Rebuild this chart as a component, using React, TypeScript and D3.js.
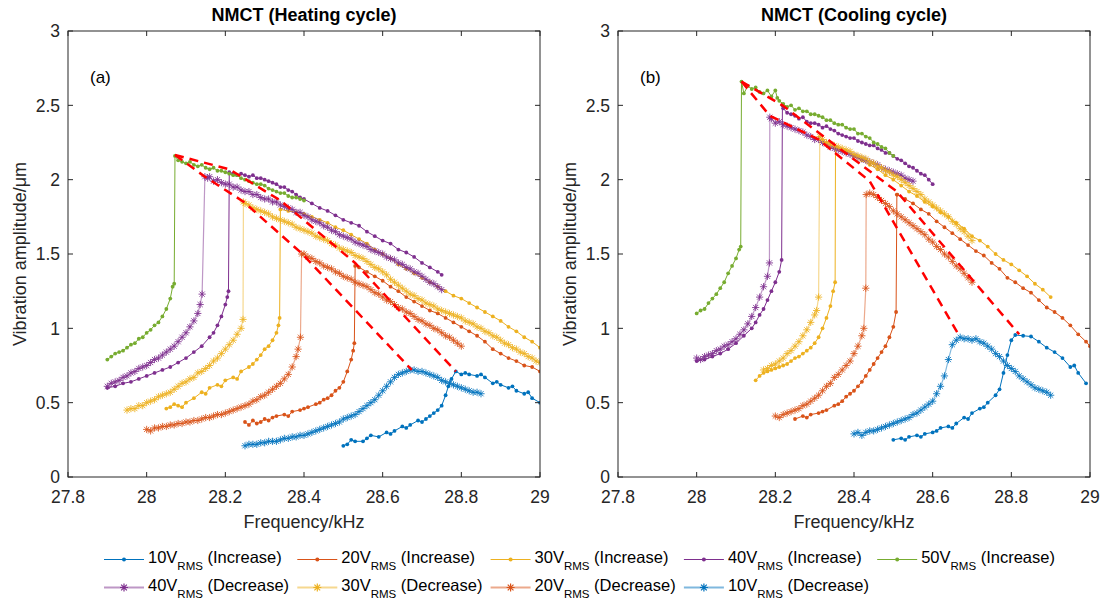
import React, { useEffect, useRef } from "react";
import * as d3 from "d3";

type P = [number, number];

const xTicks = [27.8, 28, 28.2, 28.4, 28.6, 28.8, 29];
const yTicks = [0, 0.5, 1, 1.5, 2, 2.5, 3];
const voltColors: Record<string, string> = {
  "10": "#0072BD",
  "20": "#D95319",
  "30": "#EDB120",
  "40": "#7E2F8E",
  "50": "#77AC30",
};

// ---------------- Panel (a): heating cycle ----------------
const a10inc: P[] = [[28.50,0.21],[28.51,0.22],[28.52,0.25],[28.53,0.24],[28.55,0.24],[28.56,0.26],[28.57,0.28],[28.59,0.27],[28.61,0.30],[28.62,0.29],[28.63,0.31],[28.65,0.34],[28.66,0.33],[28.67,0.35],[28.69,0.38],[28.70,0.37],[28.71,0.39],[28.72,0.41],[28.73,0.43],[28.74,0.45],[28.75,0.48],[28.76,0.55],[28.767,0.61],[28.775,0.66],[28.786,0.71],[28.80,0.69],[28.81,0.70],[28.82,0.69],[28.84,0.68],[28.85,0.69],[28.86,0.67],[28.88,0.63],[28.89,0.64],[28.90,0.62],[28.92,0.60],[28.93,0.61],[28.94,0.58],[28.96,0.56],[28.97,0.57],[28.98,0.53],[29.00,0.50]];
const a20inc: P[] = [[28.25,0.37],[28.26,0.35],[28.27,0.38],[28.28,0.36],[28.29,0.37],[28.30,0.39],[28.31,0.38],[28.32,0.40],[28.33,0.41],[28.35,0.42],[28.36,0.41],[28.37,0.44],[28.39,0.45],[28.40,0.46],[28.41,0.47],[28.43,0.49],[28.44,0.50],[28.45,0.52],[28.46,0.53],[28.47,0.55],[28.48,0.58],[28.49,0.60],[28.50,0.64],[28.51,0.71],[28.52,0.79],[28.525,0.85],[28.528,0.90],[28.53,1.42],[28.54,1.41],[28.56,1.38],[28.58,1.35],[28.60,1.32],[28.62,1.28],[28.64,1.25],[28.66,1.21],[28.68,1.18],[28.70,1.15],[28.72,1.12],[28.74,1.10],[28.76,1.07],[28.78,1.04],[28.80,1.01],[28.82,0.98],[28.84,0.95],[28.86,0.91],[28.88,0.86],[28.90,0.83],[28.92,0.80],[28.94,0.78],[28.96,0.75],[28.98,0.74],[29.00,0.71]];
const a30inc: P[] = [[28.05,0.46],[28.06,0.47],[28.07,0.49],[28.08,0.48],[28.09,0.47],[28.10,0.50],[28.12,0.53],[28.14,0.57],[28.15,0.56],[28.16,0.60],[28.18,0.62],[28.19,0.61],[28.20,0.65],[28.22,0.67],[28.23,0.66],[28.24,0.71],[28.26,0.74],[28.27,0.76],[28.28,0.79],[28.29,0.82],[28.30,0.86],[28.31,0.88],[28.32,0.92],[28.33,0.97],[28.335,1.02],[28.338,1.07],[28.34,1.80],[28.36,1.79],[28.38,1.78],[28.40,1.77],[28.42,1.75],[28.44,1.73],[28.46,1.71],[28.48,1.68],[28.50,1.66],[28.52,1.63],[28.54,1.60],[28.56,1.57],[28.58,1.53],[28.60,1.50],[28.62,1.47],[28.64,1.43],[28.66,1.40],[28.68,1.37],[28.70,1.34],[28.72,1.31],[28.74,1.28],[28.76,1.25],[28.78,1.22],[28.80,1.20],[28.82,1.17],[28.84,1.14],[28.86,1.11],[28.88,1.08],[28.90,1.05],[28.92,1.01],[28.94,0.98],[28.96,0.94],[28.98,0.91],[29.00,0.87]];
const a40inc: P[] = [[27.90,0.60],[27.92,0.61],[27.94,0.63],[27.96,0.64],[27.98,0.66],[28.00,0.68],[28.02,0.70],[28.04,0.72],[28.06,0.74],[28.08,0.77],[28.10,0.80],[28.12,0.84],[28.14,0.88],[28.16,0.94],[28.17,0.97],[28.18,1.02],[28.19,1.08],[28.20,1.16],[28.205,1.21],[28.208,1.25],[28.21,2.05],[28.22,2.04],[28.23,2.03],[28.24,2.04],[28.25,2.03],[28.26,2.02],[28.27,2.03],[28.28,2.01],[28.29,2.01],[28.30,2.00],[28.31,1.99],[28.32,1.98],[28.33,1.97],[28.34,1.95],[28.35,1.95],[28.36,1.93],[28.37,1.92],[28.38,1.90],[28.39,1.88],[28.40,1.87],[28.42,1.84],[28.44,1.81],[28.46,1.79],[28.48,1.76],[28.50,1.73],[28.52,1.71],[28.54,1.69],[28.56,1.65],[28.58,1.62],[28.60,1.59],[28.62,1.57],[28.64,1.53],[28.66,1.51],[28.68,1.48],[28.70,1.44],[28.72,1.41],[28.74,1.38],[28.75,1.36]];
const a50inc: P[] = [[27.90,0.79],[27.91,0.81],[27.92,0.83],[27.93,0.84],[27.94,0.85],[27.95,0.87],[27.96,0.89],[27.97,0.90],[27.98,0.93],[27.99,0.94],[28.00,0.97],[28.01,0.99],[28.02,1.02],[28.03,1.04],[28.04,1.08],[28.05,1.13],[28.06,1.20],[28.066,1.28],[28.07,1.30],[28.072,2.16],[28.08,2.13],[28.09,2.12],[28.10,2.11],[28.11,2.12],[28.12,2.10],[28.13,2.09],[28.14,2.10],[28.15,2.08],[28.16,2.07],[28.17,2.08],[28.18,2.06],[28.19,2.06],[28.20,2.05],[28.21,2.04],[28.22,2.03],[28.23,2.03],[28.24,2.01],[28.25,2.00],[28.26,1.99],[28.27,1.98],[28.28,1.97],[28.29,1.97],[28.30,1.96],[28.31,1.94],[28.32,1.93],[28.33,1.92],[28.34,1.91],[28.35,1.91],[28.36,1.89],[28.37,1.88],[28.38,1.88],[28.39,1.87],[28.40,1.86]];
const a40dec: P[] = [[27.90,0.61],[27.91,0.63],[27.92,0.64],[27.93,0.65],[27.94,0.67],[27.95,0.68],[27.96,0.70],[27.97,0.71],[27.98,0.73],[27.99,0.74],[28.00,0.75],[28.01,0.77],[28.02,0.79],[28.03,0.80],[28.04,0.82],[28.05,0.84],[28.06,0.86],[28.07,0.88],[28.08,0.91],[28.09,0.94],[28.10,0.97],[28.11,1.01],[28.12,1.05],[28.13,1.10],[28.136,1.16],[28.141,1.23],[28.148,2.02],[28.155,2.01],[28.16,2.02],[28.17,1.99],[28.18,2.00],[28.19,1.98],[28.20,1.97],[28.21,1.97],[28.22,1.95],[28.23,1.95],[28.24,1.93],[28.25,1.92],[28.26,1.92],[28.27,1.90],[28.28,1.90],[28.29,1.88],[28.30,1.87],[28.31,1.87],[28.32,1.85],[28.33,1.85],[28.34,1.83],[28.35,1.82],[28.36,1.81],[28.37,1.80],[28.38,1.78],[28.39,1.78],[28.40,1.76],[28.41,1.75],[28.42,1.73],[28.43,1.72],[28.44,1.71],[28.45,1.69],[28.46,1.68],[28.47,1.66],[28.48,1.65],[28.49,1.63],[28.50,1.62],[28.51,1.61],[28.52,1.60],[28.53,1.58],[28.54,1.57],[28.55,1.56],[28.56,1.55],[28.57,1.53],[28.58,1.52],[28.59,1.51],[28.60,1.50],[28.61,1.48],[28.62,1.47],[28.63,1.46],[28.64,1.44],[28.65,1.43],[28.66,1.41],[28.67,1.40],[28.68,1.38],[28.69,1.37],[28.70,1.35],[28.71,1.33],[28.72,1.31],[28.73,1.30],[28.74,1.28],[28.75,1.26]];
const a30dec: P[] = [[27.95,0.45],[27.96,0.46],[27.97,0.46],[27.98,0.48],[27.99,0.48],[28.00,0.50],[28.01,0.51],[28.02,0.52],[28.03,0.54],[28.04,0.55],[28.05,0.56],[28.06,0.57],[28.07,0.59],[28.08,0.61],[28.09,0.63],[28.10,0.64],[28.11,0.66],[28.12,0.67],[28.13,0.70],[28.14,0.71],[28.15,0.73],[28.16,0.75],[28.17,0.78],[28.18,0.80],[28.19,0.83],[28.20,0.86],[28.21,0.89],[28.22,0.92],[28.23,0.96],[28.24,1.00],[28.245,1.06],[28.246,1.85],[28.25,1.84],[28.26,1.83],[28.27,1.81],[28.28,1.80],[28.29,1.79],[28.30,1.78],[28.31,1.77],[28.32,1.75],[28.33,1.74],[28.34,1.73],[28.35,1.72],[28.36,1.71],[28.37,1.70],[28.38,1.68],[28.39,1.67],[28.40,1.66],[28.41,1.65],[28.42,1.64],[28.43,1.62],[28.44,1.61],[28.45,1.60],[28.46,1.59],[28.47,1.57],[28.48,1.56],[28.49,1.54],[28.50,1.53],[28.51,1.52],[28.52,1.51],[28.53,1.49],[28.54,1.48],[28.55,1.47],[28.56,1.45],[28.57,1.43],[28.58,1.41],[28.59,1.40],[28.60,1.38],[28.61,1.36],[28.62,1.33],[28.63,1.31],[28.64,1.29],[28.65,1.27],[28.66,1.25],[28.67,1.23],[28.68,1.22],[28.69,1.20],[28.70,1.19],[28.71,1.17],[28.72,1.16],[28.73,1.15],[28.74,1.13],[28.75,1.12],[28.76,1.11],[28.77,1.10],[28.78,1.09],[28.79,1.08],[28.80,1.07],[28.81,1.05],[28.82,1.04],[28.83,1.03],[28.84,1.01],[28.85,1.00],[28.86,0.98],[28.87,0.97],[28.88,0.95],[28.89,0.94],[28.90,0.92],[28.91,0.90],[28.92,0.89],[28.93,0.87],[28.94,0.86],[28.95,0.84],[28.96,0.83],[28.97,0.81],[28.98,0.80],[28.99,0.78],[29.00,0.77]];
const a20dec: P[] = [[28.00,0.32],[28.01,0.31],[28.02,0.33],[28.03,0.33],[28.04,0.34],[28.05,0.34],[28.06,0.35],[28.07,0.35],[28.08,0.36],[28.09,0.36],[28.10,0.37],[28.11,0.37],[28.12,0.38],[28.13,0.38],[28.14,0.39],[28.15,0.40],[28.16,0.40],[28.17,0.41],[28.18,0.42],[28.19,0.42],[28.20,0.43],[28.21,0.44],[28.22,0.45],[28.23,0.46],[28.24,0.47],[28.25,0.48],[28.26,0.49],[28.27,0.51],[28.28,0.52],[28.29,0.54],[28.30,0.55],[28.31,0.57],[28.32,0.59],[28.33,0.61],[28.34,0.63],[28.35,0.66],[28.36,0.69],[28.37,0.74],[28.38,0.81],[28.385,0.86],[28.391,0.94],[28.394,1.50],[28.40,1.50],[28.41,1.48],[28.42,1.47],[28.43,1.45],[28.44,1.44],[28.45,1.42],[28.46,1.41],[28.47,1.40],[28.48,1.38],[28.49,1.37],[28.50,1.35],[28.51,1.34],[28.52,1.33],[28.53,1.31],[28.54,1.30],[28.55,1.29],[28.56,1.28],[28.57,1.26],[28.58,1.24],[28.59,1.23],[28.60,1.21],[28.61,1.19],[28.62,1.18],[28.63,1.16],[28.64,1.14],[28.65,1.13],[28.66,1.11],[28.67,1.10],[28.68,1.08],[28.69,1.06],[28.70,1.05],[28.71,1.03],[28.72,1.02],[28.73,1.00],[28.74,0.99],[28.75,0.97],[28.76,0.95],[28.77,0.94],[28.78,0.92],[28.79,0.90],[28.80,0.88]];
const a10dec: P[] = [[28.25,0.21],[28.26,0.22],[28.27,0.22],[28.28,0.22],[28.29,0.23],[28.30,0.23],[28.31,0.24],[28.32,0.24],[28.33,0.24],[28.34,0.25],[28.35,0.26],[28.36,0.26],[28.37,0.27],[28.38,0.27],[28.39,0.28],[28.40,0.28],[28.41,0.29],[28.42,0.30],[28.43,0.31],[28.44,0.32],[28.45,0.33],[28.46,0.34],[28.47,0.35],[28.48,0.36],[28.49,0.37],[28.50,0.39],[28.51,0.40],[28.52,0.41],[28.53,0.42],[28.54,0.44],[28.55,0.46],[28.56,0.48],[28.57,0.50],[28.58,0.52],[28.59,0.55],[28.60,0.58],[28.61,0.61],[28.62,0.64],[28.63,0.67],[28.64,0.69],[28.65,0.70],[28.66,0.71],[28.67,0.72],[28.68,0.72],[28.69,0.71],[28.70,0.71],[28.71,0.70],[28.72,0.69],[28.73,0.68],[28.74,0.67],[28.75,0.65],[28.76,0.64],[28.77,0.63],[28.78,0.62],[28.79,0.61],[28.80,0.60],[28.81,0.59],[28.82,0.58],[28.83,0.57],[28.84,0.57],[28.85,0.56]];
const aBackboneDec: P[] = [[28.072,2.166],[28.148,2.02],[28.246,1.852],[28.394,1.505],[28.674,0.72]];
const aBackboneInc: P[] = [[28.072,2.166],[28.21,2.07],[28.34,1.86],[28.53,1.44],[28.786,0.71]];

// ---------------- Panel (b): cooling cycle ----------------
const b10inc: P[] = [[28.50,0.25],[28.52,0.26],[28.53,0.25],[28.54,0.27],[28.56,0.28],[28.57,0.27],[28.58,0.29],[28.60,0.30],[28.61,0.31],[28.62,0.33],[28.64,0.34],[28.65,0.33],[28.66,0.36],[28.68,0.40],[28.69,0.39],[28.70,0.43],[28.72,0.46],[28.73,0.47],[28.74,0.50],[28.76,0.55],[28.77,0.59],[28.78,0.70],[28.79,0.82],[28.80,0.92],[28.81,0.955],[28.83,0.95],[28.85,0.945],[28.87,0.91],[28.89,0.87],[28.91,0.84],[28.93,0.80],[28.95,0.74],[28.96,0.75],[28.97,0.70],[28.99,0.63]];
const b20inc: P[] = [[28.25,0.39],[28.27,0.41],[28.28,0.40],[28.29,0.42],[28.31,0.43],[28.32,0.44],[28.33,0.45],[28.35,0.48],[28.36,0.49],[28.37,0.51],[28.38,0.54],[28.39,0.56],[28.40,0.58],[28.41,0.61],[28.42,0.64],[28.43,0.68],[28.44,0.72],[28.45,0.76],[28.46,0.80],[28.47,0.84],[28.48,0.88],[28.49,0.94],[28.50,1.01],[28.507,1.11],[28.509,1.90],[28.51,1.90],[28.53,1.87],[28.55,1.84],[28.57,1.80],[28.59,1.77],[28.61,1.72],[28.63,1.68],[28.65,1.64],[28.67,1.60],[28.69,1.56],[28.71,1.52],[28.73,1.49],[28.75,1.44],[28.77,1.40],[28.79,1.34],[28.81,1.31],[28.83,1.27],[28.85,1.24],[28.87,1.19],[28.89,1.14],[28.91,1.11],[28.93,1.07],[28.95,1.02],[28.97,0.96],[28.99,0.91],[29.00,0.88]];
const b30inc: P[] = [[28.15,0.65],[28.16,0.68],[28.17,0.70],[28.18,0.71],[28.19,0.72],[28.20,0.73],[28.21,0.74],[28.22,0.75],[28.23,0.76],[28.24,0.78],[28.25,0.80],[28.26,0.81],[28.27,0.83],[28.28,0.85],[28.29,0.87],[28.30,0.90],[28.31,0.94],[28.32,1.00],[28.33,1.07],[28.34,1.15],[28.347,1.25],[28.352,1.31],[28.353,2.22],[28.36,2.21],[28.38,2.19],[28.40,2.16],[28.42,2.13],[28.44,2.10],[28.46,2.07],[28.48,2.03],[28.50,2.00],[28.52,1.96],[28.54,1.92],[28.56,1.89],[28.58,1.85],[28.60,1.82],[28.62,1.78],[28.64,1.75],[28.66,1.71],[28.68,1.67],[28.70,1.62],[28.72,1.59],[28.74,1.55],[28.76,1.50],[28.78,1.46],[28.80,1.43],[28.82,1.39],[28.84,1.35],[28.86,1.30],[28.88,1.26],[28.90,1.21]];
const b40inc: P[] = [[28.00,0.78],[28.02,0.79],[28.04,0.81],[28.06,0.83],[28.08,0.86],[28.10,0.90],[28.12,0.95],[28.14,1.00],[28.15,1.04],[28.16,1.09],[28.17,1.13],[28.18,1.19],[28.19,1.25],[28.20,1.31],[28.21,1.38],[28.216,1.46],[28.218,2.50],[28.22,2.48],[28.23,2.45],[28.24,2.44],[28.25,2.43],[28.26,2.41],[28.27,2.42],[28.28,2.39],[28.29,2.38],[28.30,2.38],[28.31,2.37],[28.32,2.35],[28.33,2.36],[28.34,2.34],[28.35,2.33],[28.36,2.31],[28.37,2.30],[28.38,2.29],[28.39,2.28],[28.40,2.28],[28.41,2.26],[28.42,2.25],[28.43,2.24],[28.44,2.23],[28.45,2.23],[28.46,2.21],[28.47,2.20],[28.48,2.18],[28.49,2.18],[28.50,2.16],[28.51,2.14],[28.52,2.13],[28.53,2.11],[28.54,2.09],[28.55,2.08],[28.56,2.06],[28.57,2.04],[28.58,2.03],[28.59,2.00],[28.60,1.97]];
const b50inc: P[] = [[28.00,1.10],[28.01,1.12],[28.02,1.13],[28.03,1.17],[28.04,1.20],[28.05,1.23],[28.06,1.27],[28.07,1.31],[28.08,1.37],[28.09,1.42],[28.10,1.47],[28.108,1.53],[28.112,1.55],[28.114,2.66],[28.12,2.58],[28.13,2.63],[28.14,2.61],[28.15,2.62],[28.16,2.59],[28.17,2.58],[28.18,2.60],[28.19,2.56],[28.20,2.60],[28.205,2.55],[28.21,2.53],[28.22,2.51],[28.23,2.49],[28.24,2.50],[28.25,2.47],[28.26,2.48],[28.27,2.46],[28.28,2.46],[28.29,2.44],[28.30,2.44],[28.31,2.43],[28.32,2.42],[28.33,2.40],[28.34,2.40],[28.35,2.38],[28.36,2.37],[28.37,2.37],[28.38,2.35],[28.39,2.34],[28.40,2.34],[28.41,2.31],[28.42,2.31],[28.43,2.29],[28.44,2.28],[28.45,2.25],[28.46,2.24],[28.47,2.22],[28.48,2.21],[28.49,2.18],[28.50,2.16]];
const b40dec: P[] = [[28.00,0.80],[28.01,0.79],[28.02,0.81],[28.03,0.82],[28.04,0.83],[28.05,0.85],[28.06,0.86],[28.07,0.88],[28.08,0.89],[28.09,0.91],[28.10,0.93],[28.11,0.96],[28.12,0.99],[28.13,1.03],[28.14,1.08],[28.15,1.14],[28.16,1.21],[28.17,1.28],[28.18,1.35],[28.185,1.44],[28.186,2.42],[28.19,2.41],[28.20,2.38],[28.21,2.39],[28.22,2.37],[28.23,2.36],[28.24,2.35],[28.25,2.34],[28.26,2.33],[28.27,2.32],[28.28,2.30],[28.29,2.29],[28.30,2.27],[28.31,2.27],[28.32,2.25],[28.33,2.24],[28.34,2.22],[28.35,2.21],[28.36,2.20],[28.37,2.19],[28.38,2.18],[28.39,2.17],[28.40,2.16],[28.41,2.15],[28.42,2.14],[28.43,2.13],[28.44,2.12],[28.45,2.11],[28.46,2.10],[28.47,2.08],[28.48,2.07],[28.49,2.06],[28.50,2.05],[28.51,2.04],[28.52,2.03],[28.53,2.01],[28.54,2.00],[28.55,1.99]];
const b30dec: P[] = [[28.17,0.72],[28.18,0.73],[28.19,0.75],[28.20,0.76],[28.21,0.78],[28.22,0.80],[28.23,0.83],[28.24,0.85],[28.25,0.88],[28.26,0.91],[28.27,0.95],[28.28,0.99],[28.29,1.04],[28.30,1.09],[28.305,1.12],[28.31,1.21],[28.313,2.29],[28.32,2.27],[28.33,2.25],[28.34,2.24],[28.35,2.23],[28.36,2.22],[28.37,2.21],[28.38,2.20],[28.39,2.19],[28.40,2.17],[28.41,2.16],[28.42,2.15],[28.43,2.14],[28.44,2.12],[28.45,2.11],[28.46,2.09],[28.47,2.08],[28.48,2.06],[28.49,2.05],[28.50,2.03],[28.51,2.02],[28.52,2.00],[28.53,1.98],[28.54,1.96],[28.55,1.94],[28.56,1.92],[28.57,1.90],[28.58,1.87],[28.59,1.85],[28.60,1.83],[28.61,1.81],[28.62,1.79],[28.63,1.77],[28.64,1.75],[28.65,1.72],[28.66,1.70],[28.67,1.67],[28.68,1.65],[28.69,1.62],[28.70,1.59]];
const b20dec: P[] = [[28.20,0.41],[28.21,0.40],[28.22,0.42],[28.23,0.43],[28.24,0.44],[28.25,0.45],[28.26,0.46],[28.27,0.48],[28.28,0.49],[28.29,0.51],[28.30,0.53],[28.31,0.55],[28.32,0.58],[28.33,0.61],[28.34,0.63],[28.35,0.67],[28.36,0.69],[28.37,0.72],[28.38,0.75],[28.39,0.78],[28.40,0.83],[28.41,0.88],[28.42,0.95],[28.425,1.00],[28.43,1.27],[28.431,1.90],[28.44,1.91],[28.45,1.90],[28.46,1.88],[28.47,1.86],[28.48,1.84],[28.49,1.82],[28.50,1.79],[28.51,1.77],[28.52,1.75],[28.53,1.73],[28.54,1.71],[28.55,1.69],[28.56,1.67],[28.57,1.65],[28.58,1.63],[28.59,1.60],[28.60,1.58],[28.61,1.55],[28.62,1.53],[28.63,1.50],[28.64,1.48],[28.65,1.45],[28.66,1.42],[28.67,1.40],[28.68,1.37],[28.69,1.34],[28.70,1.31]];
const b10dec: P[] = [[28.40,0.29],[28.41,0.30],[28.42,0.28],[28.43,0.30],[28.44,0.31],[28.45,0.31],[28.46,0.32],[28.47,0.33],[28.48,0.34],[28.49,0.35],[28.50,0.36],[28.51,0.37],[28.52,0.38],[28.53,0.39],[28.54,0.40],[28.55,0.42],[28.56,0.43],[28.57,0.45],[28.58,0.47],[28.59,0.49],[28.60,0.51],[28.61,0.56],[28.62,0.61],[28.63,0.68],[28.64,0.79],[28.65,0.89],[28.66,0.92],[28.67,0.94],[28.68,0.93],[28.69,0.93],[28.70,0.92],[28.71,0.93],[28.72,0.91],[28.73,0.90],[28.74,0.88],[28.75,0.86],[28.76,0.83],[28.77,0.81],[28.78,0.78],[28.79,0.75],[28.80,0.73],[28.81,0.71],[28.82,0.68],[28.83,0.66],[28.84,0.64],[28.85,0.62],[28.86,0.60],[28.87,0.59],[28.88,0.58],[28.89,0.57],[28.90,0.55]];
const bBackboneDec: P[] = [[28.114,2.66],[28.186,2.43],[28.31,2.27],[28.44,1.99],[28.669,0.944]];
const bBackboneInc: P[] = [[28.114,2.66],[28.218,2.50],[28.353,2.23],[28.509,1.92],[28.82,0.96]];

const legendVolts = ["10", "20", "30", "40", "50", "40", "30", "20", "10"];
const legendModes = ["Increase", "Increase", "Increase", "Increase", "Increase", "Decrease", "Decrease", "Decrease", "Decrease"];

const FONT = "'Liberation Sans', Arial, Helvetica, sans-serif";
const AX = "#262626";

type S = { data: P[]; color: string };

function starPath(cx: number, cy: number, r: number) {
  const d = r * 0.72;
  return `M${cx - r},${cy}H${cx + r}M${cx},${cy - r}V${cy + r}M${cx - d},${cy - d}L${cx + d},${cy + d}M${cx - d},${cy + d}L${cx + d},${cy - d}`;
}

function drawPanel(
  svg: d3.Selection<SVGSVGElement, unknown, null, undefined>,
  left: number,
  title: string,
  tag: string,
  inc: S[],
  dec: S[],
  bbDec: P[],
  bbInc: P[]
) {
  const W = 472, top = 31, bottom = 477;
  const x = d3.scaleLinear().domain([27.8, 29]).range([left, left + W]);
  const y = d3.scaleLinear().domain([0, 3]).range([bottom, top]);
  const clipId = "clip" + left;
  svg.append("defs").append("clipPath").attr("id", clipId)
    .append("rect").attr("x", left).attr("y", top).attr("width", W).attr("height", bottom - top);
  const plot = svg.append("g").attr("clip-path", `url(#${clipId})`);
  const line = d3.line<P>().x(d => x(d[0])).y(d => y(d[1]));

  inc.forEach(s => {
    plot.append("path").attr("d", line(s.data)).attr("fill", "none")
      .attr("stroke", s.color).attr("stroke-width", 1);
    plot.append("g").selectAll("circle").data(s.data).join("circle")
      .attr("cx", d => x(d[0])).attr("cy", d => y(d[1])).attr("r", 1.9).attr("fill", s.color);
  });
  dec.forEach(s => {
    plot.append("path").attr("d", line(s.data)).attr("fill", "none")
      .attr("stroke", s.color).attr("stroke-width", 1.2).attr("stroke-opacity", 0.5);
    plot.append("path")
      .attr("d", s.data.map(d => starPath(x(d[0]), y(d[1]), 3.6)).join(""))
      .attr("fill", "none").attr("stroke", s.color).attr("stroke-width", 1).attr("stroke-opacity", 0.85);
  });
  [bbDec, bbInc].forEach(b => {
    plot.append("path").attr("d", line(b)).attr("fill", "none")
      .attr("stroke", "#FF0000").attr("stroke-width", 2.5).attr("stroke-dasharray", "9,6");
  });

  const ax = svg.append("g");
  ax.append("rect").attr("x", left).attr("y", top).attr("width", W).attr("height", bottom - top)
    .attr("fill", "none").attr("stroke", AX).attr("stroke-width", 1);
  xTicks.forEach(t => {
    const px = x(t);
    ax.append("line").attr("x1", px).attr("x2", px).attr("y1", bottom).attr("y2", bottom - 5).attr("stroke", AX);
    ax.append("line").attr("x1", px).attr("x2", px).attr("y1", top).attr("y2", top + 5).attr("stroke", AX);
    ax.append("text").attr("x", px).attr("y", 503).attr("text-anchor", "middle")
      .attr("font-family", FONT).attr("font-size", 17.5).attr("fill", AX).text(String(t));
  });
  yTicks.forEach(t => {
    const py = y(t);
    ax.append("line").attr("x1", left).attr("x2", left + 5).attr("y1", py).attr("y2", py).attr("stroke", AX);
    ax.append("line").attr("x1", left + W).attr("x2", left + W - 5).attr("y1", py).attr("y2", py).attr("stroke", AX);
    ax.append("text").attr("x", left - 8).attr("y", py + 6.3).attr("text-anchor", "end")
      .attr("font-family", FONT).attr("font-size", 17.5).attr("fill", AX).text(String(t));
  });
  ax.append("text").attr("x", left + W / 2).attr("y", 21).attr("text-anchor", "middle")
    .attr("font-family", FONT).attr("font-size", 18).attr("font-weight", "bold").attr("fill", "#000").text(title);
  ax.append("text").attr("x", left + W / 2).attr("y", 528).attr("text-anchor", "middle")
    .attr("font-family", FONT).attr("font-size", 18).attr("fill", AX).text("Frequency/kHz");
  ax.append("text").attr("transform", `translate(${left - 42},254) rotate(-90)`).attr("text-anchor", "middle")
    .attr("font-family", FONT).attr("font-size", 18).attr("fill", AX).text("Vibration amplitude/\u03BCm");
  ax.append("text").attr("x", left + 22).attr("y", 83).attr("font-family", FONT)
    .attr("font-size", 17).attr("fill", "#000").text(tag);
}

export default function App() {
  const ref = useRef<SVGSVGElement>(null);
  useEffect(() => {
    const svg = d3.select(ref.current as SVGSVGElement);
    svg.selectAll("*").remove();
    const c = voltColors;
    drawPanel(svg, 68, "NMCT (Heating cycle)", "(a)",
      [{ data: a10inc, color: c["10"] }, { data: a20inc, color: c["20"] }, { data: a30inc, color: c["30"] }, { data: a40inc, color: c["40"] }, { data: a50inc, color: c["50"] }],
      [{ data: a40dec, color: c["40"] }, { data: a30dec, color: c["30"] }, { data: a20dec, color: c["20"] }, { data: a10dec, color: c["10"] }],
      aBackboneDec, aBackboneInc);
    drawPanel(svg, 618, "NMCT (Cooling cycle)", "(b)",
      [{ data: b10inc, color: c["10"] }, { data: b20inc, color: c["20"] }, { data: b30inc, color: c["30"] }, { data: b40inc, color: c["40"] }, { data: b50inc, color: c["50"] }],
      [{ data: b40dec, color: c["40"] }, { data: b30dec, color: c["30"] }, { data: b20dec, color: c["20"] }, { data: b10dec, color: c["10"] }],
      bBackboneDec, bBackboneInc);

    // legend
    const lg = svg.append("g");
    legendVolts.forEach((v, i) => {
      const row = i < 5 ? 0 : 1;
      const col = i < 5 ? i : i - 5;
      const x0 = 104 + col * 193.3;
      const ly = row === 0 ? 559.5 : 587.5;
      const color = voltColors[v];
      const isDec = legendModes[i] === "Decrease";
      lg.append("line").attr("x1", x0).attr("x2", x0 + 40).attr("y1", ly).attr("y2", ly)
        .attr("stroke", color).attr("stroke-width", isDec ? 2 : 1).attr("stroke-opacity", isDec ? 0.5 : 1);
      if (isDec) {
        lg.append("path").attr("d", starPath(x0 + 20, ly, 4)).attr("stroke", color).attr("stroke-width", 1.2).attr("fill", "none");
      } else {
        lg.append("circle").attr("cx", x0 + 20).attr("cy", ly).attr("r", 2).attr("fill", color);
      }
      const t = lg.append("text").attr("x", x0 + 44).attr("y", ly + 3.5)
        .attr("font-family", FONT).attr("font-size", 16.5).attr("fill", "#000");
      t.append("tspan").text(`${v}V`);
      t.append("tspan").attr("dy", 7).attr("font-size", 11.5).text("RMS");
      t.append("tspan").attr("dy", -7).text(` (${legendModes[i]})`);
    });
  }, []);
  return (
    <svg ref={ref} width={1106} height={604}
      style={{ position: "absolute", left: 0, top: 0, background: "#fff" }} />
  );
}
